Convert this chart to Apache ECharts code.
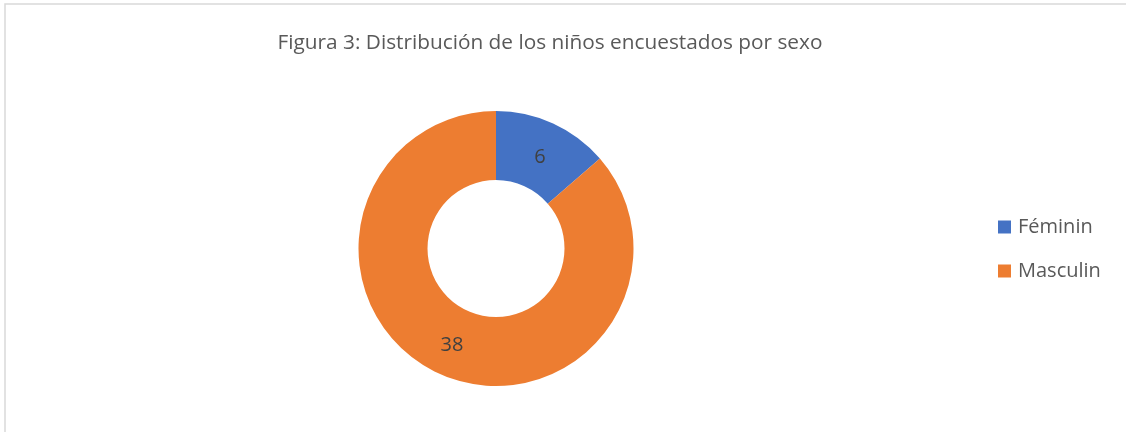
<!DOCTYPE html>
<html>
<head>
<meta charset="utf-8">
<script src="https://cdn.jsdelivr.net/npm/echarts@6/dist/echarts.min.js"></script>
<style>
  html, body { margin: 0; padding: 0; background: #fff; }
  #chart { width: 1126px; height: 432px; }
</style>
</head>
<body>
<div id="chart"></div>
<script>
// datos
const categorias = ['Féminin', 'Masculin'];
const valores = [6, 38];
const colores = ['#4472c4', '#ed7d31'];

const chart = echarts.init(document.getElementById('chart'));

chart.setOption({
  animation: false,
  title: {
    text: 'Figura 3: Distribución de los niños encuestados por sexo',
    left: 545,
    top: 28,
    textAlign: 'center',
    textStyle: {
      fontFamily: 'Open Sans',
      fontSize: 20.8,
      fontWeight: 'normal',
      color: '#595959',
    },
  },
  legend: {
    orient: 'vertical',
    left: 998,
    top: 217,
    padding: 0,
    itemWidth: 13,
    itemHeight: 13,
    itemGap: 24,
    icon: 'rect',
    data: categorias,
    textStyle: {
      fontFamily: 'Open Sans',
      fontSize: 20,
      lineHeight: 20,
      color: '#595959',
      padding: [0, 0, 0, 2],
    },
  },
  graphic: [
    {
      type: 'rect',
      shape: { x: 5, y: 4, width: 1300, height: 600 },
      style: { fill: 'none', stroke: '#d9d9d9', lineWidth: 1.5 },
      silent: true,
    },
  ],
  series: [
    {
      type: 'pie',
      center: [496, 248.5],
      radius: [68.5, 137.5],
      startAngle: 90,
      clockwise: true,
      label: {
        position: 'inside',
        formatter: '{c}',
        fontFamily: 'Open Sans',
        fontSize: 20,
        color: '#404040',
      },
      labelLine: { show: false },
      emphasis: { disabled: true },
      data: categorias.map((name, i) => ({
        name,
        value: valores[i],
        itemStyle: { color: colores[i] },
        label: i === 0 ? { offset: [0, 5] } : {},
      })),
    },
  ],
});
</script>
</body>
</html>
